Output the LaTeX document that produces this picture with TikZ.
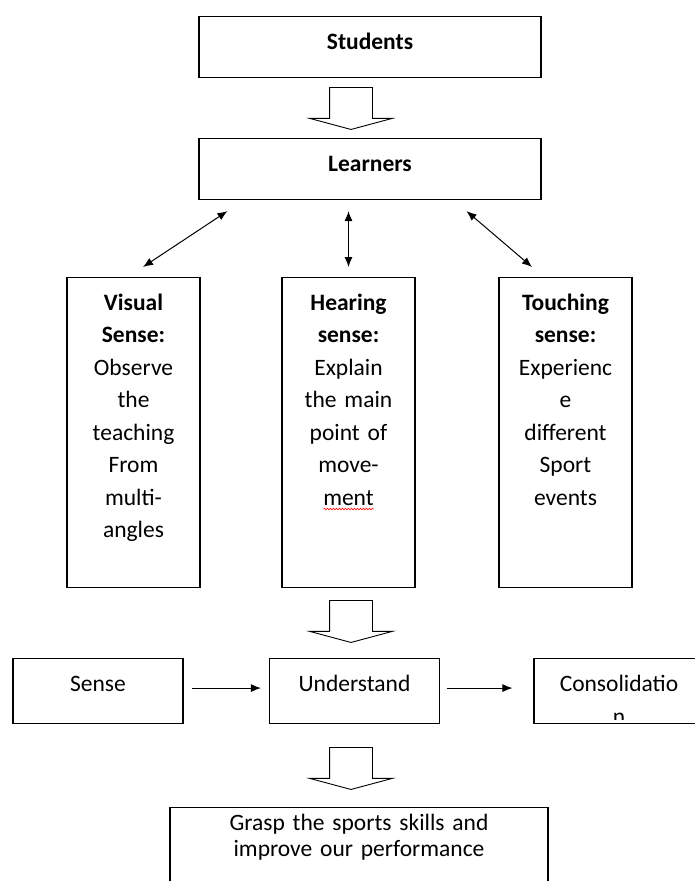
\documentclass[tikz,border=0pt]{standalone}
\usepackage{fontspec}
\setmainfont{Carlito}
\usetikzlibrary{arrows.meta,shapes.arrows,decorations.pathmorphing}

\tikzset{
  plainbox/.style={draw, line width=1.1pt, inner sep=0pt, align=center, anchor=north},
  topbox/.style={plainbox, text width=342pt, text height=33pt, text depth=28pt,
    font=\fontsize{23.5}{32.5}\selectfont\bfseries},
  sensebox/.style={plainbox, text width=133pt, text height=32.5pt, text depth=277.5pt},
  stagebox/.style={plainbox, text width=170pt, text height=33pt, text depth=32pt},
  finalbox/.style={plainbox, text width=378pt, text height=23pt, text depth=100pt,
    font=\fontsize{23.5}{25.5}\selectfont},
  hollowarrow/.style={draw, line width=0.9pt, single arrow, rotate=-90, anchor=tail,
    inner xsep=0pt, inner ysep=21pt, minimum height=42pt,
    single arrow head extend=20pt, single arrow tip angle=150, single arrow head indent=0pt},
}

\begin{document}
\begin{tikzpicture}[x=1pt, y=-1pt, font=\fontsize{23.5}{32.5}\selectfont,
    >={Latex[length=10pt,width=8pt]}]
    \useasboundingbox (0,0) rectangle (694,881);

    \node[topbox] (students) at (370,16) {Students};
    \node[hollowarrow] (down1) at (351,87) {};
    \node[topbox] (learners) at (370,138) {Learners};

    %%%%%%%%%%%%%%%%%%%%%%%%%%%%%%%%%%%%%%%%%%%%%%%%%%%%%%

    \node[sensebox] (visual) at (133.5,277)
        {\textbf{Visual}\\\textbf{Sense:}\\Observe\\the\\teaching\\From\\multi-\\angles};
    \node[sensebox] (hearing) at (348.5,277)
        {\textbf{Hearing}\\\textbf{sense:}\\Explain\\the main\\point of\\move-\\ment};
    \node[sensebox] (touching) at (565.5,277)
        {\textbf{Touching}\\\textbf{sense:}\\Experienc\\e\\different\\Sport\\events};
    % spelling mark under "ment"
    \draw[red, line width=0.6pt, decorate, decoration={snake, amplitude=0.8pt, segment length=3pt}]
        ([shift={(-25,232)}]hearing.north) -- ([shift={(25,232)}]hearing.north);

    \draw[<->, line width=1pt] ([xshift=29pt,yshift=-11pt]learners.south west) -- ([xshift=9.5pt,yshift=10pt]visual.north);
    \draw[<->, line width=1pt] ([yshift=-11pt]hearing.north |- learners.south) -- ([yshift=10pt]hearing.north);
    \draw[<->, line width=1pt] ([xshift=-75pt,yshift=-11pt]learners.south east) -- ([xshift=-33.5pt,yshift=10pt]touching.north);

    %%%%%%%%%%%%%%%%%%%%%%%%%%%%%%%%%%%%%%%%%%%%%%%%%%%%%%

    \node[hollowarrow] (down2) at (351,600) {};

    \node[stagebox] (sense) at (98,658) {Sense};
    \node[stagebox] (understand) at (354.5,658) {Understand};
    \node[stagebox] (consol) at (619,658) {};
    \begin{scope}
        \clip ([yshift=5pt]consol.south west) rectangle (consol.north east);
        \node[stagebox, draw=none] (consoltext) at (consol.north) {Consolidatio\\n};
    \end{scope}

    \draw[->, line width=1pt] ([xshift=8pt,yshift=3pt]sense.east) -- ([xshift=-8pt,yshift=3pt]understand.west);
    \draw[->, line width=1pt] ([xshift=7pt,yshift=3pt]understand.east) -- ([xshift=-21pt,yshift=3pt]consol.west);

    %%%%%%%%%%%%%%%%%%%%%%%%%%%%%%%%%%%%%%%%%%%%%%%%%%%%%%

    \node[hollowarrow] (down3) at (351,747) {};
    \node[finalbox] (grasp) at (359,807) {Grasp the sports skills and\\improve our performance};
\end{tikzpicture}
\end{document}
